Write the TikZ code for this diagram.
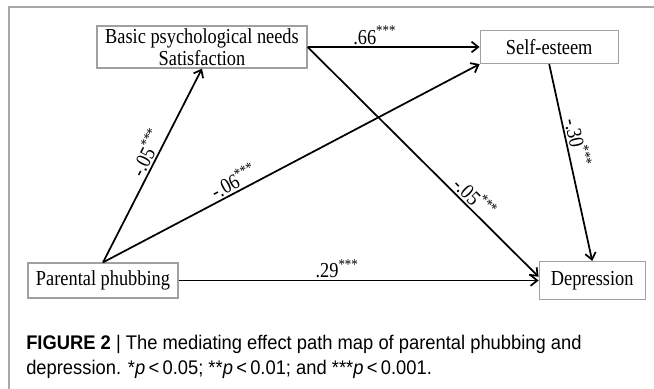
\documentclass[tikz,border=0pt]{standalone}
\usepackage{fontspec}
\setmainfont[FakeStretch=0.86]{Liberation Serif}
\newfontfamily\capfont[FakeStretch=0.93]{Liberation Sans}
\usepackage{tikz}
\usetikzlibrary{positioning,arrows.meta}
\definecolor{rulegray}{HTML}{A8A8A8}
\definecolor{boxline}{HTML}{A0A0A0}
\tikzset{
  var/.style={rectangle, draw=boxline, line width=0.9pt, inner sep=0pt, align=center,
              font=\fontsize{16}{16.5}\selectfont},
  coef/.style={font=\fontsize{16}{16.5}\selectfont, sloped, above, inner sep=1.2pt},
  arr/.style={-{Straight Barb[length=5pt,width=8pt]}, line width=1.3pt, draw=black},
  capt/.style={font=\capfont\fontsize{14.8}{18}\selectfont, anchor=base west, inner sep=0pt},
}

\begin{document}
\begin{tikzpicture}[x=0.75pt, y=-0.75pt]
    \useasboundingbox (0,0) rectangle (654,389);
    % frame of the figure panel
    \draw[rulegray, line width=1pt] (9,389) |- (654,7);
    \node[var, minimum width=157.5pt, minimum height=31.5pt] (bpns) at (202,47) {Basic psychological needs\\Satisfaction};
    \node[var, minimum width=103.5pt, minimum height=24.75pt, right=129pt of bpns] (se) {Self-esteem};
    \node[var, minimum width=112.5pt, minimum height=26.25pt] (pp) at (103,280.5) {Parental phubbing};
    \node[var, minimum width=79.5pt, minimum height=28.5pt, right=270pt of pp] (dep) {Depression};
    \draw[arr] (pp.north) -- node[coef, pos=0.54] {-.05\textsuperscript{***}} (bpns.south);
    \draw[arr] (pp.north) -- node[coef, pos=0.36] {-.06\textsuperscript{***}} (se.south west);
    \draw[arr] (bpns.east) -- node[coef, pos=0.39] {.66\textsuperscript{***}} (se.west);
    \draw[arr] (bpns.east) -- node[coef, pos=0.69] {-.05\textsuperscript{***}} (dep.176);
    \draw[arr] (se.south) -- node[coef, pos=0.41] {-.30\textsuperscript{***}} (dep.north);
    \draw[arr] (pp.east) -- node[coef, pos=0.44] {.29\textsuperscript{***}} (dep.west);
    % caption
    \node[capt] (cap1) at (26,349) {\textbf{FIGURE 2} \textbar{} The mediating effect path map of parental phubbing and};
    \node[capt] (cap2) at (26,374) {depression. *\textit{p}\,<\,0.05; **\textit{p}\,<\,0.01; and ***\textit{p}\,<\,0.001.};
  \end{tikzpicture}
\end{document}
